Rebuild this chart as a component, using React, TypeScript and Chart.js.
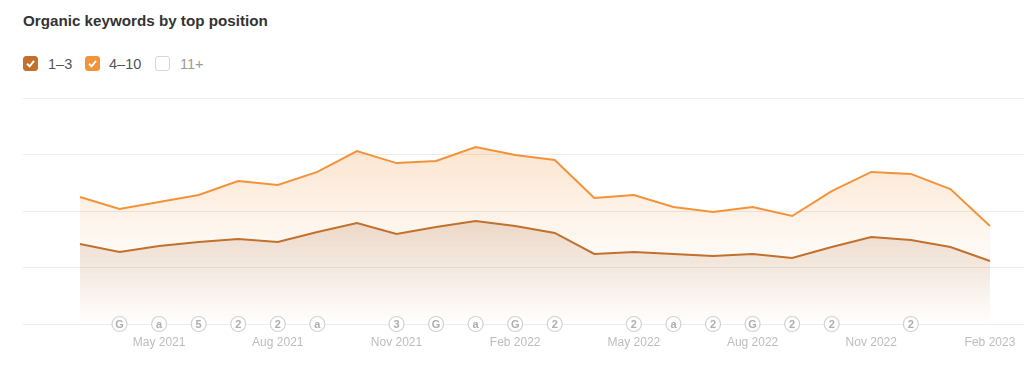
import React, { useEffect, useRef } from "react";
import { Chart, registerables } from "chart.js";

Chart.register(...registerables);

const months = ["Mar 2021","Apr 2021","May 2021","Jun 2021","Jul 2021","Aug 2021","Sep 2021","Oct 2021","Nov 2021","Dec 2021","Jan 2022","Feb 2022","Mar 2022","Apr 2022","May 2022","Jun 2022","Jul 2022","Aug 2022","Sep 2022","Oct 2022","Nov 2022","Dec 2022","Jan 2023","Feb 2023"];
const tickMonths = ["May 2021","Aug 2021","Nov 2021","Feb 2022","May 2022","Aug 2022","Nov 2022","Feb 2023"];
const pos4to10 = [562,509,540,571,633,615,673,765,712,721,783,748,726,558,571,518,496,518,478,588,673,664,597,434];
const pos1to3 = [354,319,345,363,376,363,407,447,398,429,456,434,403,310,319,310,301,310,292,341,385,372,341,279];
const eventLabels = ["", "G", "a", "5", "2", "2", "a", "", "3", "G", "a", "G", "2", "", "2", "a", "2", "G", "2", "2", "", "2", "", ""];

const markerPlugin = {
  id: "markers",
  afterDatasetsDraw(chart: any) {
    const { ctx, scales } = chart;
    const y = scales.y.getPixelForValue(0);
    ctx.save();
    eventLabels.forEach((label, i) => {
      if (!label) return;
      const x = scales.x.getPixelForValue(i);
      ctx.beginPath();
      ctx.arc(x, y, 7.5, 0, Math.PI * 2);
      ctx.fillStyle = "#ffffff";
      ctx.fill();
      ctx.lineWidth = 1.2;
      ctx.strokeStyle = "#d2d2d2";
      ctx.stroke();
      ctx.fillStyle = "#aeaeae";
      ctx.font = "700 11px 'Liberation Sans'";
      ctx.textAlign = "center";
      ctx.textBaseline = "middle";
      ctx.fillText(label, x, y + 0.5);
    });
    ctx.restore();
  },
};

function fade(chart: any, data: number[], rgb: string, top: number, mid: number) {
  const { ctx, chartArea, scales } = chart;
  if (!chartArea || !scales.y) return `rgba(${rgb},${top})`;
  const g = ctx.createLinearGradient(0, scales.y.getPixelForValue(Math.max(...data)), 0, chartArea.bottom);
  g.addColorStop(0, `rgba(${rgb},${top})`);
  g.addColorStop(0.55, `rgba(${rgb},${mid})`);
  g.addColorStop(1, `rgba(${rgb},0)`);
  return g;
}

const box = (bg: string, border: string, checked: boolean) => (
  <span style={{ width: 15, height: 15, boxSizing: "border-box", background: bg, border: `1px solid ${border}`, borderRadius: 3, display: "inline-block", position: "relative" }}>
    {checked && (
      <svg width="13" height="13" viewBox="0 0 13 13" style={{ position: "absolute", left: 0, top: 0 }}>
        <path d="M3 6.8 L5.6 9.3 L10 3.8" fill="none" stroke="#fff" strokeWidth="2" />
      </svg>
    )}
  </span>
);

export default function App() {
  const ref = useRef<HTMLCanvasElement>(null);
  useEffect(() => {
    document.body.style.margin = "0";
    const chart = new Chart(ref.current!, {
      type: "line",
      data: {
        datasets: [
          {
            label: "1–3",
            data: pos1to3.map((y, x) => ({ x, y })),
            borderColor: "#c2702c",
            borderWidth: 2,
            pointRadius: 0,
            tension: 0,
            fill: "origin",
            backgroundColor: (c: any) => fade(c.chart, pos1to3, "165,100,50", 0.2, 0.1),
          },
          {
            label: "4–10",
            data: pos4to10.map((y, x) => ({ x, y })),
            borderColor: "#f29339",
            borderWidth: 2,
            pointRadius: 0,
            tension: 0,
            fill: "origin",
            backgroundColor: (c: any) => fade(c.chart, pos4to10, "242,147,57", 0.24, 0.06),
          },
        ],
      },
      options: {
        animation: false,
        responsive: false,
        layout: { padding: 0 },
        plugins: { legend: { display: false }, tooltip: { enabled: false } },
        scales: {
          x: {
            type: "linear",
            min: -1.44,
            max: 23.86,
            grid: { display: false },
            border: { display: false },
            afterFit(s: any) { s.height = 52; s.paddingLeft = 0; s.paddingRight = 0; },
            afterBuildTicks(s: any) {
              s.ticks = tickMonths.map((m) => ({ value: months.indexOf(m) }));
            },
            ticks: {
              autoSkip: false,
              maxRotation: 0,
              color: "#bcbcbc",
              font: { family: "'Liberation Sans'", size: 12 },
              padding: 3,
              callback(v: number) {
                return months[v] ?? "";
              },
            },
          },
          y: {
            min: 0,
            max: 1000,
            position: "left",
            afterFit(s: any) { s.width = 0; },
            ticks: { display: false, stepSize: 250 },
            border: { display: false },
            grid: { color: "#ececec", lineWidth: 1, drawTicks: false },
          },
        },
      },
      plugins: [markerPlugin],
    } as any);
    return () => chart.destroy();
  }, []);
  return (
    <div style={{ position: "relative", width: 1024, height: 376, background: "#fff", overflow: "hidden", fontFamily: "'Liberation Sans', sans-serif", filter: "blur(0.35px)" }}>
      <div style={{ position: "absolute", left: 23, top: 12, fontSize: 15.2, fontWeight: 700, color: "#333" }}>Organic keywords by top position</div>
      <div style={{ position: "absolute", left: 23, top: 56, display: "flex", alignItems: "center", fontSize: 14.5, color: "#555", height: 15 }}>
        {box("#c2702c", "#c2702c", true)}
        <span style={{ marginLeft: 10, width: 37 }}>1–3</span>
        {box("#f29339", "#f29339", true)}
        <span style={{ marginLeft: 9, width: 46 }}>4–10</span>
        {box("#fff", "#d6d6d6", false)}
        <span style={{ marginLeft: 10, color: "#999" }}>11+</span>
      </div>
      <div style={{ position: "absolute", left: 23, top: 98, width: 1001 }}>
        <canvas ref={ref} width={1001} height={278} style={{ display: "block" }} />
      </div>
    </div>
  );
}
